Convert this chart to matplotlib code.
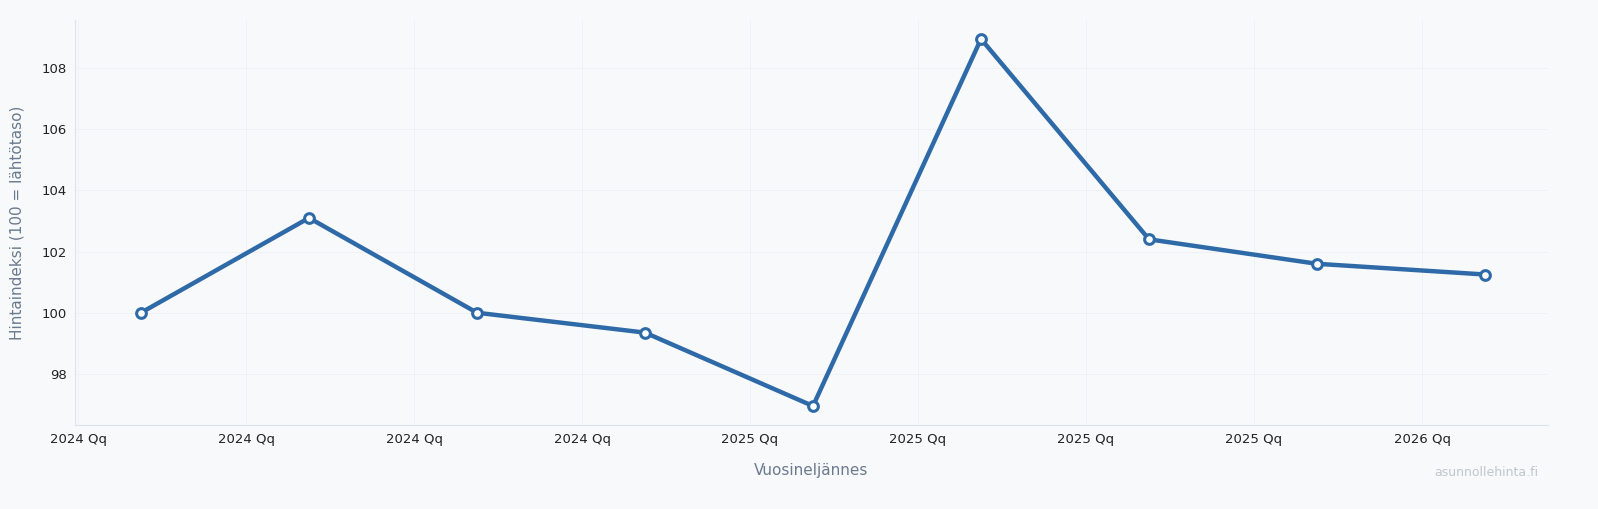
import matplotlib.pyplot as plt

quarters = list(range(9))
index_values = [100.0, 103.1, 100.0, 99.35, 96.95, 108.95, 102.4, 101.6, 101.25]
tick_labels = ["2024 Qq"] * 4 + ["2025 Qq"] * 4 + ["2026 Qq"]
tick_pos = [q - 0.375 for q in quarters]

bg = "#f8f9fb"
fig = plt.figure(figsize=(15.98, 5.09), dpi=100, facecolor=bg)
ax = fig.add_axes([75 / 1598, 84 / 509, 1473 / 1598, 405 / 509], facecolor=bg)

ax.plot(quarters, index_values, color="#2f6aa8", linewidth=3.2, marker="o",
        markersize=7, markerfacecolor="white", markeredgecolor="#2f6aa8",
        markeredgewidth=2.2, zorder=3)

ax.set_xlim(-0.393, 8.375)
ax.set_ylim(96.33, 109.57)
ax.set_xticks(tick_pos)
ax.set_xticklabels(tick_labels)
ax.set_yticks([98, 100, 102, 104, 106, 108])
ax.tick_params(labelsize=9.5, colors="#222222", length=0, pad=6)
ax.grid(True, color="#eef1f5", linewidth=0.7)
for s in ["top", "right"]:
    ax.spines[s].set_visible(False)
for s in ["left", "bottom"]:
    ax.spines[s].set_color("#dde3ec")

ax.set_xlabel("Vuosineljännes", fontsize=11, color="#6b7a8f", labelpad=12)
ax.set_ylabel("Hintaindeksi (100 = lähtötaso)", fontsize=11, color="#6b7a8f", labelpad=12)
fig.text(1538 / 1598, 1 - 472 / 509, "asunnollehinta.fi", fontsize=9,
         color="#c0c6ce", ha="right", va="center")

fig.savefig("out.png", dpi=100, facecolor=bg)
